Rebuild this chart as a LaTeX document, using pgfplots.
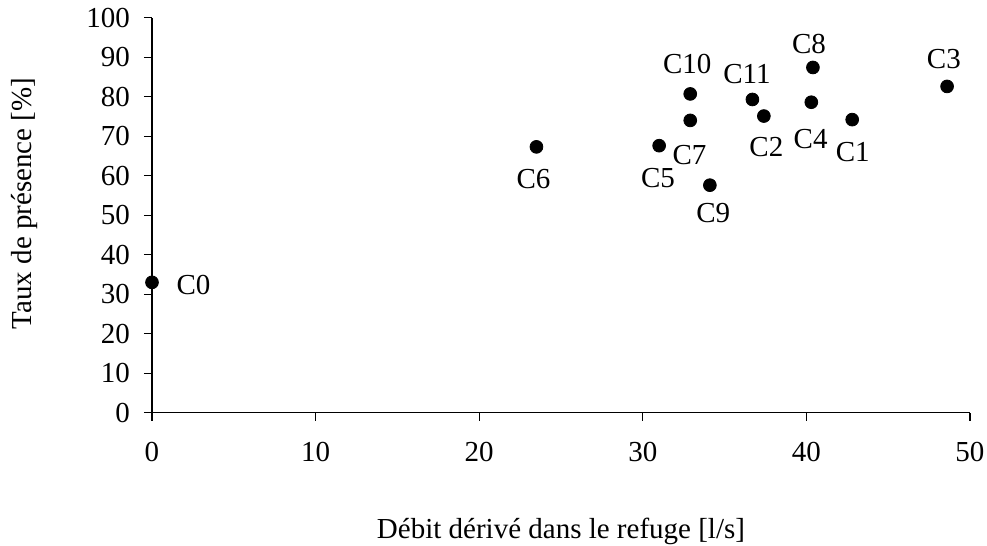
\documentclass[border=0pt]{standalone}
\usepackage{fontspec}
\setmainfont{Liberation Serif}
\usepackage{pgfplots}
\usepackage{pgfplotstable}
\pgfplotsset{compat=1.18}

% x y label dx dy (label offsets in pt)
\pgfplotstableread{
x     y     lab  dx     dy
0     33.0  C0   20.75  -1.5
42.8  74.2  C1   0.25   -16.25
37.4  75.1  C2   1.25   -15.5
48.6  82.6  C3   -1.6   13.75
40.3  78.6  C4   -0.35  -18.4
31.0  67.6  C5   -0.6   -16.0
23.5  67.3  C6   -1.5   -15.9
32.9  74.0  C7   -0.4   -17.2
40.4  87.4  C8   -2.0   11.75
34.1  57.6  C9   1.7    -13.7
32.9  80.7  C10  -1.5   15.1
36.7  79.3  C11  -2.75  12.9
}\presence

\begin{document}
\begin{tikzpicture}
\useasboundingbox (0,0) rectangle (493.5pt,273pt);
\begin{axis}[
    at={(76pt,66.65pt)}, anchor=south west,
    scale only axis, width=409pt, height=197.5pt,
    font=\fontsize{14.5}{17}\selectfont,
    /pgf/number format/assume math mode=true,
    axis lines=left, axis line style={-, line width=0.6pt},
    tick align=outside, major tick length=4pt,
    tick style={line width=0.6pt, black},
    xmin=0, xmax=50, ymin=0, ymax=100,
    xtick={0,10,...,50}, ytick={0,10,...,100},
    yticklabel style={xshift=-3.5pt},
    xticklabel style={yshift=-7pt},
    xlabel={Débit dérivé dans le refuge [l/s]},
    ylabel={Taux de présence [\%]},
    xlabel style={at={(axis description cs:0.5,0)}, anchor=center, yshift=-59.5pt},
    ylabel style={at={(axis description cs:-0.1553,0.53)}, anchor=center},
    clip=false,
]
\addplot[only marks, mark=*, mark size=3.2pt, black,
    point meta=explicit symbolic,
    visualization depends on={\thisrow{dx} \as \dx},
    visualization depends on={\thisrow{dy} \as \dy},
    nodes near coords,
    every node near coord/.append style={anchor=center, xshift=\dx pt, yshift=\dy pt, black},
] table[x=x, y=y, meta=lab] {\presence};
\end{axis}
\end{tikzpicture}
\end{document}
